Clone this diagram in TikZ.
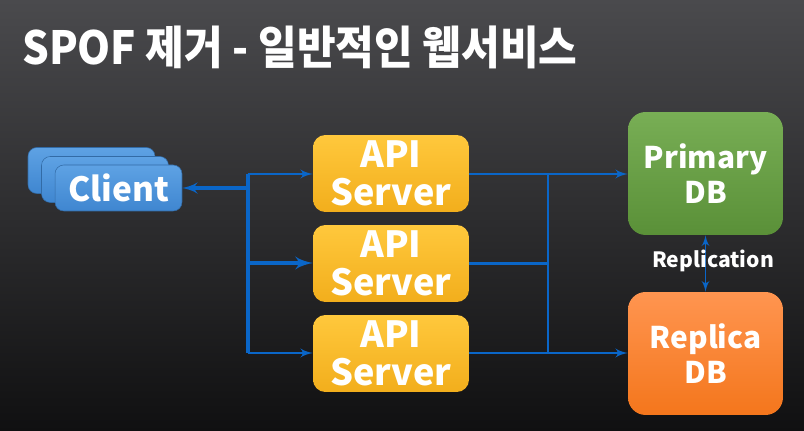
\documentclass[tikz,border=0pt]{standalone}
\usepackage{fontspec}
\setmainfont{Noto Sans CJK KR}
\usetikzlibrary{arrows,positioning}
\definecolor{bgtop}{HTML}{4A4A4D}
\definecolor{bgbot}{HTML}{101011}
\definecolor{linkblue}{HTML}{0A66C8}
\definecolor{cltop}{HTML}{5EA2E4}
\definecolor{clbot}{HTML}{3F86D0}
\definecolor{apitop}{HTML}{FFC83C}
\definecolor{apibot}{HTML}{F2AE1C}
\definecolor{pritop}{HTML}{78AE55}
\definecolor{pribot}{HTML}{5A9038}
\definecolor{reptop}{HTML}{FF9550}
\definecolor{repbot}{HTML}{F4761C}
\tikzstyle{client}=[rounded corners=5pt, top color=cltop, bottom color=clbot, draw=clbot!80!black, line width=0.3pt, minimum width=2.54cm, minimum height=0.92cm, text=white, font=\bfseries\fontsize{19}{21}\selectfont]
\tikzstyle{api}=[rounded corners=7pt, top color=apitop, bottom color=apibot, minimum width=3.12cm, minimum height=1.54cm, text=white, align=center, font=\bfseries\fontsize{20.5}{21.5}\selectfont]
\tikzstyle{db}=[rounded corners=10pt, minimum width=3.1cm, minimum height=2.46cm, text=white, align=center, font=\bfseries\fontsize{17}{20}\selectfont]
\tikzstyle{link}=[draw=linkblue, line width=1.4pt]

\begin{document}
\begin{tikzpicture}[x=0.02cm,y=-0.02cm,>=latex',align=center]
        \shade[top color=bgtop, bottom color=bgbot] (0,0) rectangle (804,431);
        \useasboundingbox (0,0) rectangle (804,431);
        \node [anchor=west, text=white, font=\bfseries\fontsize{26}{30}\selectfont] (title) at (16,47) {\scalebox{0.92}[1]{SPOF 제거 - 일반적인 웹서비스}};
        % clients, stacked
        \node [client] (c3) at (91.5,170.5) {Client};
        \node [client] (c2) at (105,179.5) {Client};
        \node [client] (c1) at (118.5,188) {Client};
        % servers
        \node [api] (api1) at (391,173.5) {API\\Server};
        \node [api] (api2) at (391,263.5) {API\\Server};
        \node [api] (api3) at (391,353.5) {API\\Server};
        % databases
        \node [db, top color=pritop, bottom color=pribot] (pri) at (705.5,173.5) {Primary\\DB};
        \node [db, top color=reptop, bottom color=repbot] (rep) at (705.5,353.5) {Replica\\DB};
        % junctions
        \coordinate (jl) at (248,188);
        \coordinate (jl1) at (248,174);
        \coordinate (jl2) at (248,263);
        \coordinate (jl3) at (248,353);
        \coordinate (jr1) at (548,174);
        \coordinate (jr3) at (548,353);
        \draw[link, line width=2pt, ->] (jl) -- (c1.east |- jl);
        \draw[link, line width=2pt] (jl1) -- (jl3);
        \draw[link, ->] (jl1) -- (api1.west |- jl1);
        \draw[link, line width=2.4pt, ->] (jl2) -- (api2.west |- jl2);
        \draw[link, ->] (jl3) -- (api3.west |- jl3);
        \draw[link] (api1.east |- jr1) -- (jr1);
        \draw[link] (api2.east) -- (api2.east -| jr1);
        \draw[link] (api3.east |- jr3) -- (jr3);
        \draw[link] (jr1) -- (jr3);
        \draw[link, ->] (jr1) -- (pri.west |- jr1);
        \draw[link, ->] (jr3) -- (rep.west |- jr3);
        \draw[link, line width=1.1pt, <->] (pri.south) -- (rep.north);
        \node [text=white, font=\bfseries\fontsize{12}{14}\selectfont] (repl) at (713,261) {Replication};
\end{tikzpicture}
\end{document}
